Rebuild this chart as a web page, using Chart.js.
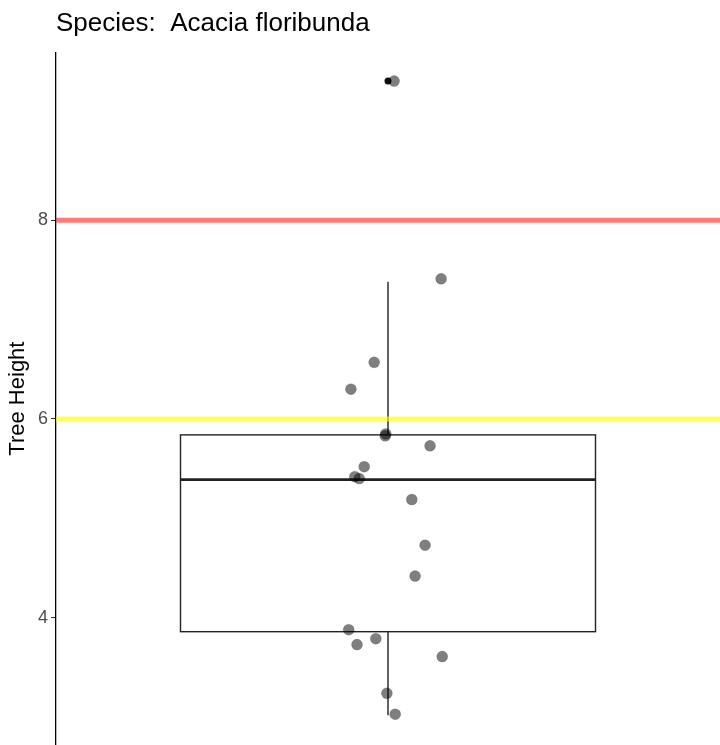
<!DOCTYPE html>
<html>
<head>
<meta charset="utf-8">
<script src="https://cdn.jsdelivr.net/npm/chart.js@4/dist/chart.umd.min.js"></script>
<style>
  html, body { margin: 0; padding: 0; background: #fff; }
  #wrap { width: 720px; height: 745px; }
</style>
</head>
<body>
<div id="wrap"><canvas id="heightChart"></canvas></div>
<script>
// tree heights (y) with horizontal jitter (x offset from the category centre)
const heights = [9.40, 7.41, 6.57, 6.30, 5.85, 5.83, 5.73, 5.52, 5.42, 5.40, 5.19, 4.73, 4.42, 3.88, 3.73, 3.79, 3.61, 3.24, 3.03];
const jitter = [0.011, 0.096, -0.025, -0.067, -0.004, -0.005, 0.076, -0.043, -0.060, -0.052, 0.043, 0.067, 0.049, -0.071, -0.056, -0.022, 0.098, -0.002, 0.013];

// boxplot summary: lower whisker, q1, median, q3, upper whisker
const boxStats = [3.02, 3.86, 5.39, 5.84, 7.38];
const outliers = [9.40];

const thresholds = [8, 6];
const thresholdColors = ["rgba(255, 40, 40, 0.62)", "rgba(255, 255, 0, 0.62)"];
const yTicks = [4, 6, 8];

const points = heights.map((h, i) => ({ x: 1 + jitter[i], y: h }));

const boxPlugin = {
  id: "boxPlot",
  beforeDatasetsDraw(chart) {
    const { ctx, scales: { x, y } } = chart;
    const [lo, q1, med, q3, hi] = boxStats;
    const left = x.getPixelForValue(0.625);
    const right = x.getPixelForValue(1.375);
    const cx = x.getPixelForValue(1);
    ctx.save();
    ctx.strokeStyle = "#222";
    ctx.lineWidth = 1.4;
    // whiskers
    ctx.beginPath();
    ctx.moveTo(cx, y.getPixelForValue(q3));
    ctx.lineTo(cx, y.getPixelForValue(hi));
    ctx.moveTo(cx, y.getPixelForValue(q1));
    ctx.lineTo(cx, y.getPixelForValue(lo));
    ctx.stroke();
    // box
    ctx.strokeRect(left, y.getPixelForValue(q3), right - left, y.getPixelForValue(q1) - y.getPixelForValue(q3));
    // median
    ctx.lineWidth = 2.8;
    ctx.beginPath();
    ctx.moveTo(left, y.getPixelForValue(med));
    ctx.lineTo(right, y.getPixelForValue(med));
    ctx.stroke();
    ctx.restore();
  }
};

const datasets = thresholds.map((t, i) => ({
  type: "line",
  data: [{ x: 0.4, y: t }, { x: 1.6, y: t }],
  borderColor: thresholdColors[i],
  borderWidth: 5,
  pointRadius: 0,
  order: 3
}));

datasets.push({
  type: "scatter",
  data: outliers.map(o => ({ x: 1, y: o })),
  backgroundColor: "#111",
  borderWidth: 0,
  pointRadius: 3.5,
  order: 2
});

datasets.push({
  type: "scatter",
  data: points,
  backgroundColor: "rgba(0, 0, 0, 0.5)",
  borderColor: "rgba(0, 0, 0, 0.3)",
  borderWidth: 0.5,
  pointRadius: 5.5,
  order: 1
});

new Chart(document.getElementById("heightChart"), {
  type: "scatter",
  data: { datasets },
  plugins: [boxPlugin],
  options: {
    responsive: true,
    maintainAspectRatio: false,
    animation: false,
    layout: { padding: 0, autoPadding: false },
    plugins: {
      legend: { display: false },
      tooltip: { enabled: false },
      title: {
        display: true,
        text: "Species:  Acacia floribunda",
        align: "start",
        fullSize: false,
        color: "#000",
        font: { family: "Liberation Sans, Arial, sans-serif", size: 26, weight: "normal" },
        padding: { top: 8, bottom: 13 }
      }
    },
    scales: {
      x: {
        type: "linear",
        display: false,
        min: 0.4,
        max: 1.6
      },
      y: {
        min: 2.72,
        max: 9.69,
        afterBuildTicks: scale => { scale.ticks = yTicks.map(v => ({ value: v })); },
        afterFit: scale => {
          scale.width = 56;
          scale.paddingTop = 0;
          scale.paddingBottom = 0;
        },
        grid: {
          display: true,
          drawOnChartArea: false,
          drawTicks: true,
          tickLength: 5,
          color: "#333"
        },
        border: { display: true, color: "#000", width: 1.3 },
        ticks: {
          color: "#4d4d4d",
          padding: 3,
          font: { family: "Liberation Sans, Arial, sans-serif", size: 18 }
        },
        title: {
          display: true,
          text: "Tree Height",
          color: "#000",
          padding: { top: 5, bottom: 0 },
          font: { family: "Liberation Sans, Arial, sans-serif", size: 22 }
        }
      }
    }
  }
});
</script>
</body>
</html>
